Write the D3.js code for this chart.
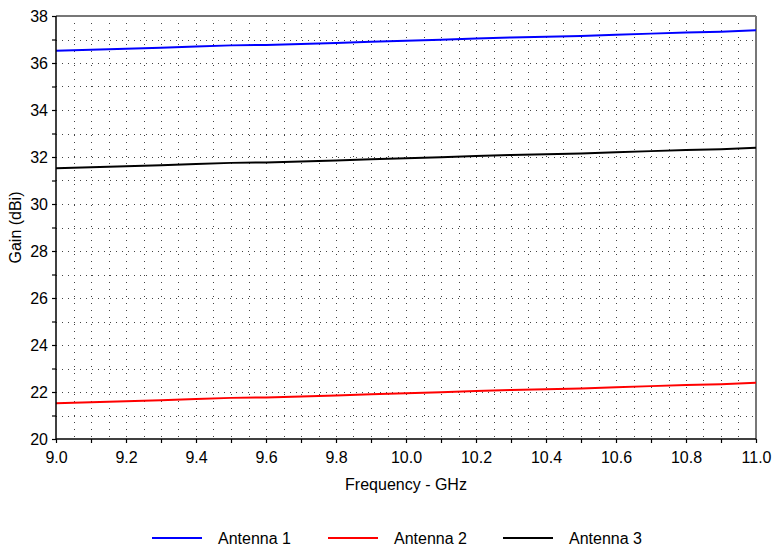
<!DOCTYPE html>
<html>
<head>
<meta charset="utf-8">
<script src="https://cdn.jsdelivr.net/npm/d3@7"></script>
<style>
  body { margin: 0; background: #fff; }
  text { font-family: Arial, "Liberation Sans", sans-serif; }
</style>
</head>
<body>
<div id="chart"></div>
<script>
// data
var freq = [9.0, 9.1, 9.2, 9.3, 9.4, 9.5, 9.6, 9.7, 9.8, 9.9, 10.0,
            10.1, 10.2, 10.3, 10.4, 10.5, 10.6, 10.7, 10.8, 10.9, 11.0];
var antenna1 = [36.52, 36.56, 36.61, 36.65, 36.70, 36.75, 36.77, 36.81, 36.85, 36.90, 36.95,
                36.99, 37.04, 37.09, 37.12, 37.15, 37.20, 37.25, 37.30, 37.33, 37.39];
var antenna2 = [21.52, 21.56, 21.61, 21.65, 21.70, 21.75, 21.77, 21.81, 21.85, 21.90, 21.95,
                21.99, 22.04, 22.09, 22.12, 22.15, 22.20, 22.25, 22.30, 22.33, 22.39];
var antenna3 = [31.52, 31.56, 31.61, 31.65, 31.70, 31.75, 31.77, 31.81, 31.85, 31.90, 31.95,
                31.99, 32.04, 32.09, 32.12, 32.15, 32.20, 32.25, 32.30, 32.33, 32.39];
var seriesNames = ["Antenna 1", "Antenna 2", "Antenna 3"];
var seriesColors = ["#0000ff", "#ff0000", "#000000"];
var xTicks = [9.0, 9.2, 9.4, 9.6, 9.8, 10.0, 10.2, 10.4, 10.6, 10.8, 11.0];
var yTicks = [20, 22, 24, 26, 28, 30, 32, 34, 36, 38];

var W = 773, H = 546;
var margin = {top: 16, right: 17, bottom: 107, left: 56};
var width = W - margin.left - margin.right,
    height = H - margin.top - margin.bottom;

var svg = d3.select("#chart").append("svg")
    .attr("width", W)
    .attr("height", H);
var g = svg.append("g")
    .attr("transform", "translate(" + margin.left + "," + margin.top + ")");

var x = d3.scaleLinear().domain([9, 11]).range([0, width]);
var y = d3.scaleLinear().domain([20, 38]).range([height, 0]);

// dotted grid: verticals every 0.05 GHz, horizontals every 1 dB
var vgrid = d3.range(1, 40).map(function(i) { return 9 + i * 0.05; });
var hgrid = d3.range(21, 38);

g.selectAll("line.vg").data(vgrid).enter().append("line")
    .attr("class", "vg")
    .attr("x1", function(d) { return Math.round(x(d)) + 0.5; })
    .attr("x2", function(d) { return Math.round(x(d)) + 0.5; })
    .attr("y1", 0).attr("y2", height)
    .attr("stroke", "#444").attr("stroke-width", 1)
    .attr("stroke-dasharray", "1,6");

g.selectAll("line.hg").data(hgrid).enter().append("line")
    .attr("class", "hg")
    .attr("y1", function(d) { return Math.round(y(d)) + 0.5; })
    .attr("y2", function(d) { return Math.round(y(d)) + 0.5; })
    .attr("x1", 0).attr("x2", width)
    .attr("stroke", "#444").attr("stroke-width", 1)
    .attr("stroke-dasharray", "1,5");

// frame top / right in grey
g.append("line").attr("x1", 0).attr("x2", width).attr("y1", 0).attr("y2", 0)
    .attr("stroke", "#777").attr("stroke-width", 2);
g.append("line").attr("x1", width).attr("x2", width).attr("y1", 0).attr("y2", height)
    .attr("stroke", "#777").attr("stroke-width", 2);

// series
var series = [antenna1, antenna2, antenna3];
var line = d3.line()
    .x(function(d, i) { return x(freq[i]); })
    .y(function(d) { return y(d); });

g.selectAll("path.series").data(series).enter().append("path")
    .attr("class", "series")
    .attr("d", line)
    .attr("fill", "none")
    .attr("stroke", function(d, i) { return seriesColors[i]; })
    .attr("stroke-width", 2);

// axes
var xAxis = d3.axisBottom(x)
    .tickValues(d3.range(0, 21).map(function(i) { return 9 + i * 0.1; }))
    .tickSize(4).tickPadding(9)
    .tickFormat(function(d) {
      var r = Math.round(d * 10) / 10;
      return xTicks.some(function(t) { return Math.abs(t - r) < 1e-6; }) ? r.toFixed(1) : "";
    });
var yAxis = d3.axisLeft(y)
    .tickValues(d3.range(20, 39))
    .tickSize(4).tickPadding(4)
    .tickFormat(function(d) { return yTicks.indexOf(d) >= 0 ? d : ""; });

var xg = g.append("g")
    .attr("transform", "translate(0," + height + ")")
    .call(xAxis);
var yg = g.append("g").call(yAxis);

[xg, yg].forEach(function(a) {
  a.select(".domain").attr("stroke", "#000").attr("stroke-width", 1.5);
  a.selectAll(".tick line").attr("stroke", "#000").attr("stroke-width", 1.2);
  a.selectAll(".tick text")
    .attr("fill", "#000")
    .style("font-size", "16px")
    .style("font-family", "Arial, 'Liberation Sans', sans-serif");
});
xg.select(".domain").attr("d", "M0,0H" + width);
yg.select(".domain").attr("d", "M0,0V" + height);

// axis titles
svg.append("text")
    .attr("x", margin.left + width / 2)
    .attr("y", 490)
    .attr("text-anchor", "middle")
    .style("font-size", "16px")
    .text("Frequency - GHz");

svg.append("text")
    .attr("transform", "translate(21," + (margin.top + height / 2) + ") rotate(-90)")
    .attr("text-anchor", "middle")
    .style("font-size", "16px")
    .text("Gain (dBi)");

// legend
var legendX = [152, 328, 503];
var lg = svg.selectAll("g.legend").data(seriesNames).enter().append("g")
    .attr("class", "legend")
    .attr("transform", function(d, i) { return "translate(" + legendX[i] + ",538)"; });
lg.append("line")
    .attr("x1", 0).attr("x2", 50).attr("y1", 0).attr("y2", 0)
    .attr("stroke", function(d, i) { return seriesColors[i]; })
    .attr("stroke-width", 2);
lg.append("text")
    .attr("x", 66).attr("y", 0)
    .attr("dy", "0.35em")
    .style("font-size", "16px")
    .text(function(d) { return d; });
</script>
</body>
</html>
